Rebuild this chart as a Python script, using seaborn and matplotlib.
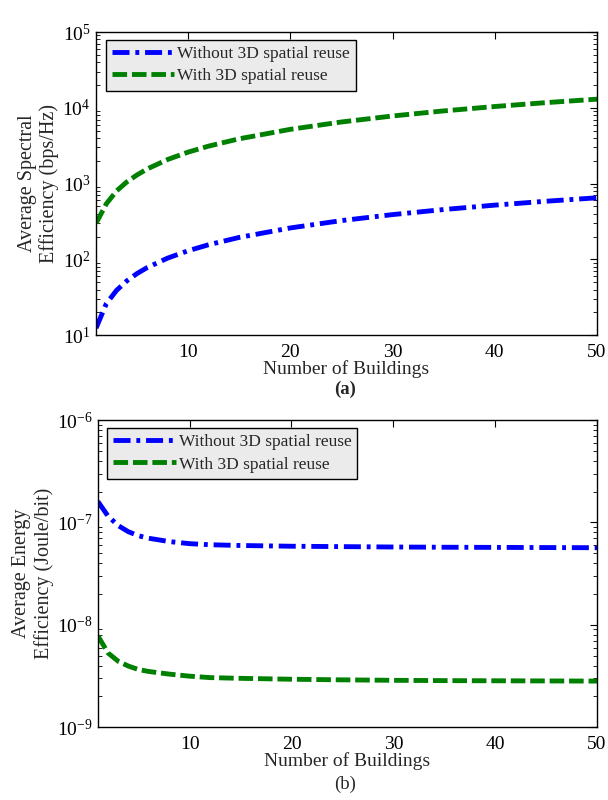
import matplotlib
matplotlib.use("Agg")
import matplotlib.pyplot as plt
import seaborn as sns
import numpy as np
import pandas as pd
from matplotlib.ticker import LogLocator, LogFormatterSciNotation, NullFormatter

buildings = [1, 2, 3, 4, 5, 6, 8, 10, 12, 15, 20, 25, 30, 35, 40, 45, 50]

# (a) Average spectral efficiency (bps/Hz)
se_without = [12.4, 26, 39, 52, 65, 78, 104, 130, 156, 195, 260, 325, 390, 455, 520, 585, 650]
se_with = [300, 540, 800, 1050, 1300, 1560, 2080, 2600, 3120, 3900, 5200, 6500, 7800, 9100, 10400, 11700, 13000]

# (b) Average energy efficiency (Joule/bit)
ee_without = [1.6e-7, 1.15e-7, 9.3e-8, 8.1e-8, 7.4e-8, 7.0e-8, 6.5e-8, 6.2e-8, 6.05e-8, 5.95e-8,
              5.85e-8, 5.8e-8, 5.75e-8, 5.72e-8, 5.7e-8, 5.68e-8, 5.66e-8]
ee_with = [7.8e-9, 5.3e-9, 4.4e-9, 3.95e-9, 3.65e-9, 3.5e-9, 3.3e-9, 3.15e-9, 3.05e-9, 3.0e-9,
           2.94e-9, 2.9e-9, 2.87e-9, 2.85e-9, 2.84e-9, 2.83e-9, 2.82e-9]

se_yticks = [1e1, 1e2, 1e3, 1e4, 1e5]
ee_yticks = [1e-9, 1e-8, 1e-7, 1e-6]
x_ticks = [10, 20, 30, 40, 50]

label_without = "Without 3D spatial reuse"
label_with = "With 3D spatial reuse"

sns.set_theme(style="white")
plt.rcParams['font.family'] = ['Liberation Serif', 'DejaVu Serif']
plt.rcParams['mathtext.fontset'] = 'custom'
plt.rcParams['mathtext.rm'] = 'Liberation Serif'
plt.rcParams['mathtext.it'] = 'Liberation Serif:italic'
plt.rcParams['mathtext.bf'] = 'Liberation Serif:bold'
plt.rcParams['axes.unicode_minus'] = False

fig = plt.figure(figsize=(6.08, 8.0), dpi=100)
ax1 = fig.add_axes([0.158, 0.581, 0.824, 0.379])
ax2 = fig.add_axes([0.161, 0.091, 0.821, 0.384])

blue = (0, 0, 1)
green = (0, 0.5, 0)

def draw(ax, yw, yg, yticks):
    df = pd.DataFrame({"x": buildings, "without": yw, "with": yg})
    sns.lineplot(data=df, x="x", y="without", ax=ax, color=blue, lw=3.5, label=label_without)
    sns.lineplot(data=df, x="x", y="with", ax=ax, color=green, lw=3.5, label=label_with)
    ax.lines[0].set_dashes([3.5, 1.2, 0.8, 1.2])
    ax.lines[1].set_dashes([3.0, 1.0])
    ax.set_yscale('log')
    ax.set_xlim(1, 50)
    ax.set_xticks(x_ticks)
    ax.set_ylim(yticks[0], yticks[-1])
    ax.set_yticks(yticks)
    ax.yaxis.set_minor_locator(LogLocator(base=10, subs=np.arange(2, 10), numticks=100))
    ax.yaxis.set_minor_formatter(NullFormatter())
    ax.yaxis.set_major_formatter(LogFormatterSciNotation())
    ax.set_ylim(yticks[0], yticks[-1])
    ax.tick_params(axis='both', which='both', direction='in', top=True, right=True,
                   labelsize=14, colors='black')
    ax.tick_params(axis='both', which='major', length=5, width=0.8)
    ax.tick_params(axis='y', which='minor', length=3, width=0.6, left=True, right=True)
    ax.tick_params(axis='x', which='major', pad=6)
    ax.tick_params(axis='y', which='major', pad=4)
    for s in ax.spines.values():
        s.set_color('black')
        s.set_linewidth(1.0)
    ax.set_xlabel("Number of Buildings", fontsize=14, labelpad=0)
    leg = ax.legend(loc='upper left', bbox_to_anchor=(0.012, 0.985), fontsize=12.5,
                    frameon=True, fancybox=False, handlelength=3.6, handletextpad=0.15,
                    borderpad=0.35, labelspacing=0.35, borderaxespad=0.2)
    leg.get_frame().set_facecolor('#ebebeb')
    leg.get_frame().set_edgecolor('black')
    leg.get_frame().set_linewidth(1.0)
    leg.get_frame().set_alpha(1.0)

draw(ax1, se_without, se_with, se_yticks)
ax1.set_ylabel("Average Spectral\nEfficiency (bps/Hz)", fontsize=14.5, labelpad=2, linespacing=1.2)

draw(ax2, ee_without, ee_with, ee_yticks)
ax2.set_ylabel("Average Energy\nEfficiency (Joule/bit)", fontsize=14.5, labelpad=2, linespacing=1.2)

fig.text(0.568, 0.513, "(a)", ha='center', va='center', fontsize=13.5, fontweight='bold')
fig.text(0.568, 0.019, "(b)", ha='center', va='center', fontsize=13.5)

fig.savefig("out.png", dpi=100, facecolor='white')
